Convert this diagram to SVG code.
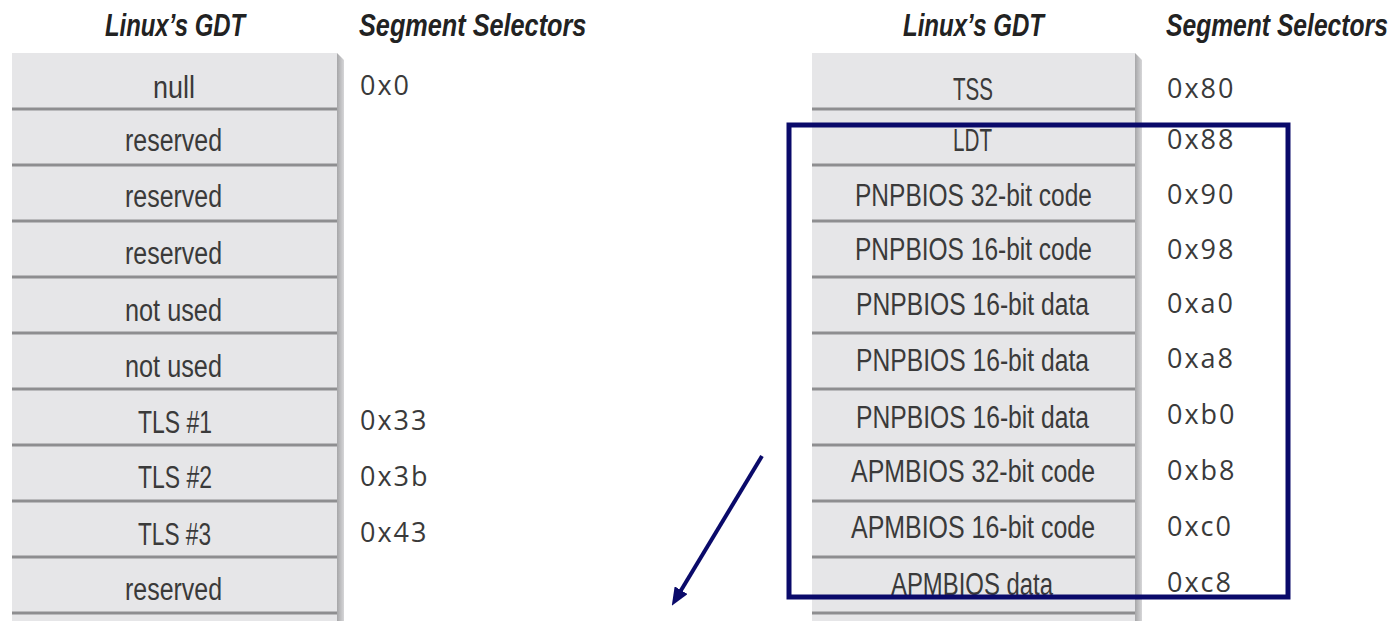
<svg xmlns="http://www.w3.org/2000/svg" width="1400" height="621" viewBox="0 0 1400 621">
  <defs>
    <style>
      .cell { fill: #e6e6e8; }
      .sep { stroke: #8e8e90; stroke-width: 3; }
      .lbl { font-family: "Liberation Sans", Arial, sans-serif; font-size: 31px; fill: #3a3a3a; }
      .sel { font-family: "Open Sans", "Liberation Sans", sans-serif; font-size: 27px; fill: #3a3a3a; letter-spacing: 2px; }
      .hdr { font-family: "Liberation Sans", Arial, sans-serif; font-size: 31px; font-weight: bold; font-style: italic; fill: #222222; }
      .hilite { fill: none; stroke: #0a0a6a; stroke-width: 5; }
      .link { stroke: #0a0a6a; stroke-width: 4; fill: none; }
    </style>
    <linearGradient id="edgeShade" x1="0" y1="0" x2="1" y2="0">
      <stop offset="0" stop-color="#a6a6a8"/>
      <stop offset="1" stop-color="#d6d6d8"/>
    </linearGradient>
    <marker id="head" viewBox="0 0 10 10" refX="4.4" refY="5" markerWidth="18" markerHeight="15" markerUnits="userSpaceOnUse" orient="auto" preserveAspectRatio="none">
      <path d="M0,0 L10,5 L0,10 z" fill="#0a0a6a"/>
    </marker>
  </defs>

  <rect width="1400" height="621" fill="#ffffff"/>

  <!-- Column headings (condensed horizontally) -->
  <g id="headings">
    <text class="hdr" transform="translate(105,36) scale(0.77,1)">Linux’s GDT</text>
    <text class="hdr" transform="translate(359,36) scale(0.815,1)">Segment Selectors</text>
    <text class="hdr" transform="translate(903,36) scale(0.775,1)">Linux’s GDT</text>
    <text class="hdr" transform="translate(1166,36) scale(0.795,1)">Segment Selectors</text>
  </g>

  <!-- Left GDT table: entries 0..10 -->
  <g id="gdt-left">
    <rect class="cell" x="12" y="53" width="325" height="580"/>
    <polygon points="337,53 344,60 344,621 337,621" fill="url(#edgeShade)"/>
    <g id="l-null"><line class="sep" x1="12" y1="109" x2="337" y2="109"/><text class="lbl" x="153" y="98" textLength="42" lengthAdjust="spacingAndGlyphs">null</text></g>
    <g id="l-reserved-1"><line class="sep" x1="12" y1="165" x2="337" y2="165"/><text class="lbl" x="125" y="151" textLength="97" lengthAdjust="spacingAndGlyphs">reserved</text></g>
    <g id="l-reserved-2"><line class="sep" x1="12" y1="221" x2="337" y2="221"/><text class="lbl" x="125" y="207" textLength="97" lengthAdjust="spacingAndGlyphs">reserved</text></g>
    <g id="l-reserved-3"><line class="sep" x1="12" y1="277" x2="337" y2="277"/><text class="lbl" x="125" y="264" textLength="97" lengthAdjust="spacingAndGlyphs">reserved</text></g>
    <g id="l-notused-1"><line class="sep" x1="12" y1="333" x2="337" y2="333"/><text class="lbl" x="125" y="321" textLength="97" lengthAdjust="spacingAndGlyphs">not used</text></g>
    <g id="l-notused-2"><line class="sep" x1="12" y1="389" x2="337" y2="389"/><text class="lbl" x="125" y="377" textLength="97" lengthAdjust="spacingAndGlyphs">not used</text></g>
    <g id="l-tls-1"><line class="sep" x1="12" y1="445" x2="337" y2="445"/><text class="lbl" x="138" y="433" textLength="74" lengthAdjust="spacingAndGlyphs">TLS #1</text></g>
    <g id="l-tls-2"><line class="sep" x1="12" y1="501" x2="337" y2="501"/><text class="lbl" x="138" y="488" textLength="74" lengthAdjust="spacingAndGlyphs">TLS #2</text></g>
    <g id="l-tls-3"><line class="sep" x1="12" y1="557" x2="337" y2="557"/><text class="lbl" x="138" y="545" textLength="73" lengthAdjust="spacingAndGlyphs">TLS #3</text></g>
    <g id="l-reserved-4"><line class="sep" x1="12" y1="613" x2="337" y2="613"/><text class="lbl" x="125" y="600" textLength="97" lengthAdjust="spacingAndGlyphs">reserved</text></g>
  </g>

  <!-- Left selectors -->
  <g id="sel-left">
    <text class="sel" x="360" y="95">0x0</text>
    <text class="sel" x="360" y="430">0x33</text>
    <text class="sel" x="360" y="486">0x3b</text>
    <text class="sel" x="360" y="542">0x43</text>
  </g>

  <!-- Right GDT table: entries 16..25 -->
  <g id="gdt-right">
    <rect class="cell" x="812" y="53" width="323" height="580"/>
    <polygon points="1135,53 1142,60 1142,621 1135,621" fill="url(#edgeShade)"/>
    <g id="r-tss"><line class="sep" x1="812" y1="109" x2="1135" y2="109"/><text class="lbl" x="953" y="100" textLength="40" lengthAdjust="spacingAndGlyphs">TSS</text></g>
    <g id="r-ldt"><line class="sep" x1="812" y1="165" x2="1135" y2="165"/><text class="lbl" x="953" y="151" textLength="39" lengthAdjust="spacingAndGlyphs">LDT</text></g>
    <g id="r-pnp32code"><line class="sep" x1="812" y1="221" x2="1135" y2="221"/><text class="lbl" x="855" y="206" textLength="237" lengthAdjust="spacingAndGlyphs">PNPBIOS 32-bit code</text></g>
    <g id="r-pnp16code"><line class="sep" x1="812" y1="277" x2="1135" y2="277"/><text class="lbl" x="855" y="260" textLength="237" lengthAdjust="spacingAndGlyphs">PNPBIOS 16-bit code</text></g>
    <g id="r-pnp16data-1"><line class="sep" x1="812" y1="333" x2="1135" y2="333"/><text class="lbl" x="856" y="315" textLength="233" lengthAdjust="spacingAndGlyphs">PNPBIOS 16-bit data</text></g>
    <g id="r-pnp16data-2"><line class="sep" x1="812" y1="389" x2="1135" y2="389"/><text class="lbl" x="856" y="371" textLength="233" lengthAdjust="spacingAndGlyphs">PNPBIOS 16-bit data</text></g>
    <g id="r-pnp16data-3"><line class="sep" x1="812" y1="445" x2="1135" y2="445"/><text class="lbl" x="856" y="428" textLength="233" lengthAdjust="spacingAndGlyphs">PNPBIOS 16-bit data</text></g>
    <g id="r-apm32code"><line class="sep" x1="812" y1="501" x2="1135" y2="501"/><text class="lbl" x="851" y="482" textLength="244" lengthAdjust="spacingAndGlyphs">APMBIOS 32-bit code</text></g>
    <g id="r-apm16code"><line class="sep" x1="812" y1="557" x2="1135" y2="557"/><text class="lbl" x="851" y="538" textLength="244" lengthAdjust="spacingAndGlyphs">APMBIOS 16-bit code</text></g>
    <g id="r-apmdata"><line class="sep" x1="812" y1="613" x2="1135" y2="613"/><text class="lbl" x="891" y="595" textLength="162" lengthAdjust="spacingAndGlyphs">APMBIOS data</text></g>
  </g>

  <!-- Right selectors -->
  <g id="sel-right">
    <text class="sel" x="1167" y="98">0x80</text>
    <text class="sel" x="1167" y="149">0x88</text>
    <text class="sel" x="1167" y="204">0x90</text>
    <text class="sel" x="1167" y="259">0x98</text>
    <text class="sel" x="1167" y="313">0xa0</text>
    <text class="sel" x="1167" y="368">0xa8</text>
    <text class="sel" x="1167" y="424">0xb0</text>
    <text class="sel" x="1167" y="480">0xb8</text>
    <text class="sel" x="1167" y="536">0xc0</text>
    <text class="sel" x="1167" y="592">0xc8</text>
  </g>

  <!-- Highlight frame around the BIOS-related entries -->
  <g id="highlight">
    <rect class="hilite" x="789" y="125" width="499" height="472"/>
  </g>

  <!-- Connectors -->
  <g id="connectors">
    <line class="link" x1="762" y1="456" x2="677" y2="597" marker-end="url(#head)"/>
  </g>
</svg>
